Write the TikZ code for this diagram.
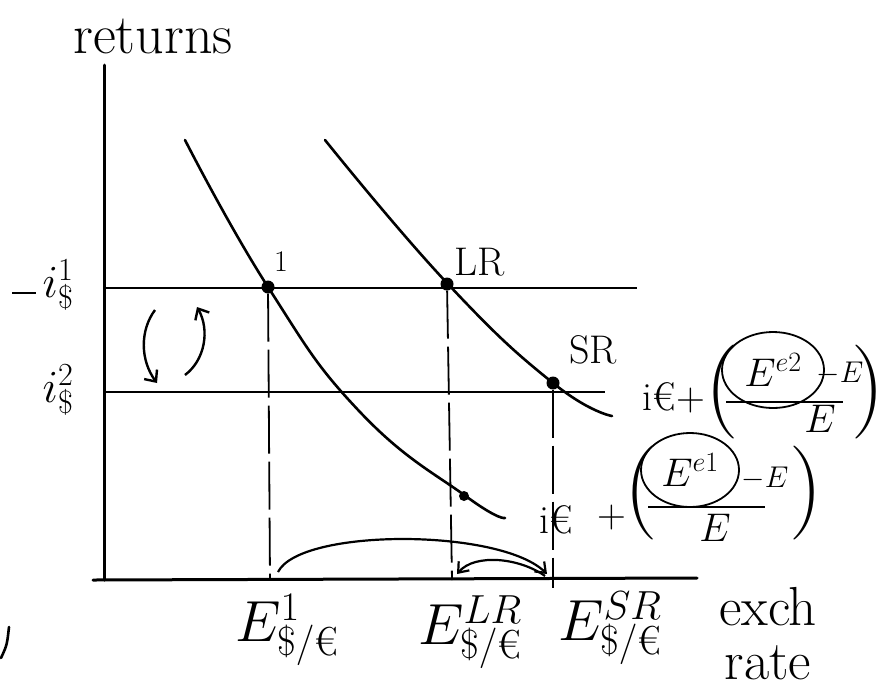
\RequirePackage{fix-cm}
\documentclass[tikz,border=0pt]{standalone}
\usepackage{fontspec}
\usepackage{amsmath}
\usetikzlibrary{arrows.meta,shapes.geometric}
\begin{document}
\begin{tikzpicture}[x=1pt,y=-1pt,
  axis/.style={line width=3pt,line cap=round},
  hline/.style={line width=2.4pt},
  curveline/.style={line width=2.6pt,line cap=round},
  guide/.style={line width=1.8pt,dash pattern=on 48pt off 8pt},
  eqdot/.style={circle,fill=black,inner sep=0pt,minimum size=13pt},
  lbl/.style={font=\fontsize{40}{44}\selectfont,inner sep=0pt},
  fml/.style={font=\fontsize{40}{44}\selectfont,inner sep=0pt},
  sml/.style={font=\fontsize{30}{34}\selectfont,inner sep=0pt},
  paren/.style={font=\fontsize{94}{94}\selectfont,inner sep=0pt},
  elbl/.style={font=\fontsize{58}{62}\selectfont,inner sep=0pt},
  circ/.style={ellipse,draw,line width=1.8pt,inner sep=0pt},
  arc/.style={line width=2.2pt,-{Straight Barb[length=9pt,width=14pt]}}]
\useasboundingbox (0,0) rectangle (888,694);
% axes
\coordinate (ytop) at (104,65);
\coordinate (origin) at (104,580);
\coordinate (xend) at (697,578);
\coordinate (xstart) at (93,580);
\draw[axis] (ytop) -- (origin);
\draw[axis] (xstart) -- (xend);
% horizontal returns lines
\coordinate (h1a) at (104,288);
\coordinate (h1b) at (637,288);
\coordinate (h2a) at (104,392);
\coordinate (h2b) at (605,392);
\draw[hline] (h1a) -- (h1b);
\draw[hline] (h2a) -- (h2b);
\coordinate (tk1) at (12,293);
\coordinate (tk2) at (36,293);
\draw[line width=1.4pt] (tk1) -- (tk2);
% curves
\draw[curveline] plot[smooth,tension=0.8] coordinates {(185,140) (268,287) (360,412) (467,497) (505,518)};
\draw[curveline] plot[smooth,tension=0.8] coordinates {(325,140) (447,283) (553,383) (612,416)};
% equilibrium points
\node[eqdot] (p1) at (268,287) {};
\node[eqdot] (pLR) at (447,284) {};
\node[eqdot] (pSR) at (553,383) {};
\node[eqdot,minimum size=10pt] (pd) at (464,496) {};
% feet on x-axis
\coordinate (f1) at (270,580);
\coordinate (fLR) at (452,580);
\coordinate (fSR) at (553,588);
\draw[guide] (p1) -- (f1);
\draw[guide] (pLR) -- (fLR);
\draw[guide] (pSR) -- (fSR);
% arrows between lines
\coordinate (a1s) at (155,310);
\coordinate (a1e) at (157,383);
\draw[line width=2.4pt,-{Straight Barb[length=9pt,width=16pt]}] (a1s) .. controls (140,330) and (140,360) .. (a1e);
\coordinate (a2s) at (185,375);
\coordinate (a2e) at (197,307);
\draw[line width=2.4pt,-{Straight Barb[length=9pt,width=16pt]}] (a2s) .. controls (205,360) and (210,330) .. (a2e);
% arcs on x-axis
\coordinate (b1s) at (278,572);
\coordinate (b1e) at (547,574);
\draw[arc] (b1s) .. controls (300,528) and (500,528) .. (b1e);
\coordinate (b2s) at (545,576);
\coordinate (b2e) at (457,574);
\draw[arc] (b2s) .. controls (520,558) and (475,553) .. (b2e);
% axis and point labels
\node[font=\fontsize{56}{60}\selectfont,inner sep=0pt] (ret) at (153,36) {returns};
\node[lbl,font=\fontsize{30}{34}\selectfont] (l1) at (281,262) {1};
\node[lbl] (lLR) at (480,262) {LR};
\node[lbl] (lSR) at (593,350) {SR};
\node[font=\fontsize{46}{50}\selectfont,inner sep=0pt] (i1) at (58,285) {$i^{1}_{\$}$};
\node[font=\fontsize{46}{50}\selectfont,inner sep=0pt] (i2) at (58,390) {$i^{2}_{\$}$};
% upper return curve label
\node[fml] (r2i) at (674,398) {i€+};
\node[paren] (r2lp) at (722,392) {\makebox[20pt]{(}};
\node[circ,fml,minimum width=102pt,minimum height=76pt] (r2n) at (773,370) {$E^{e2}$};
\node[sml] (r2m) at (840,373) {$-E$};
\coordinate (r2bl) at (726,402);
\coordinate (r2br) at (843,402);
\draw[line width=1.8pt] (r2bl) -- (r2br);
\node[fml] (r2d) at (820,419) {$E$};
\node[paren] (r2rp) at (868,392) {\makebox[20pt]{)}};
% lower return curve label
\node[fml] (r1i) at (556,520) {i€};
\node[fml] (r1p) at (612,518) {+};
\node[paren] (r1lp) at (641,493) {\makebox[20pt]{(}};
\node[circ,fml,minimum width=98pt,minimum height=74pt] (r1n) at (690,470) {$E^{e1}$};
\node[sml] (r1m) at (765,478) {$-E$};
\coordinate (r1bl) at (648,507);
\coordinate (r1br) at (765,507);
\draw[line width=1.8pt] (r1bl) -- (r1br);
\node[fml] (r1d) at (715,528) {$E$};
\node[paren] (r1rp) at (806,493) {\makebox[20pt]{)}};
% exchange-rate labels
\node[elbl] (e1) at (287,630) {$E^{1}_{\$/\text{€}}$};
\node[elbl] (eLR) at (470,632) {$E^{LR}_{\$/\text{€}}$};
\node[elbl] (eSR) at (610,628) {$E^{SR}_{\$/\text{€}}$};
\node[font=\fontsize{55}{54}\selectfont,inner sep=0pt,align=center] (ex) at (768,634) {exch\\rate};
% stray pen stroke at left edge
\draw[line width=2.6pt,line cap=round] (9,627) .. controls (7,645) .. (1,658);
\end{tikzpicture}
\end{document}
